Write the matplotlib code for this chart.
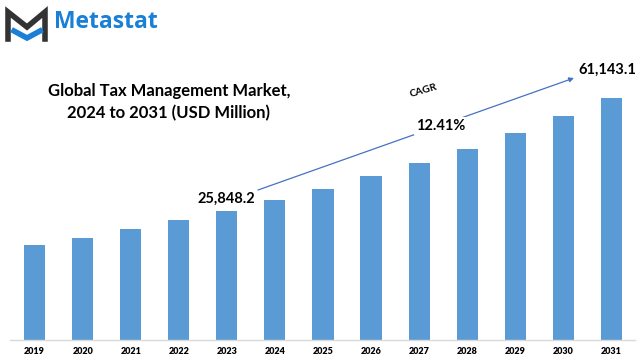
import matplotlib
matplotlib.use("Agg")
import matplotlib.pyplot as plt
from matplotlib.lines import Line2D

######################################################################
# DATA

years = ["2019", "2020", "2021", "2022", "2023", "2024", "2025",
         "2026", "2027", "2028", "2029", "2030", "2031"]
# market size (USD Million)
values = [24003, 25771, 28046, 30319, 32593, 35372, 38152,
          41436, 44721, 48258, 52301, 56596, 61143.1]
start_label = "25,848.2"
end_label = "61,143.1"
cagr_label = "12.41%"
title = "Global Tax Management Market,\n2024 to 2031 (USD Million)"

BAR_COLOR = "#5b9bd5"
W, H = 641, 359


def px(x, y):
    # pixel position -> figure fraction
    return (x / W, 1 - y / H)


######################################################################
# PLOT

fig = plt.figure(figsize=(W / 100, H / 100), dpi=100)
ax = fig.add_axes([10 / W, 19 / H, 625 / W, 340 / H])

xs = range(len(years))
ax.bar(xs, values, width=0.44, color=BAR_COLOR, zorder=2)
ax.set_xlim(-0.51, 12.49)
ax.set_ylim(0, values[-1] * 340 / 242)

ax.set_xticks(list(xs))
ax.set_xticklabels(years, fontfamily="Lato", fontweight="heavy", fontsize=6.5)
ax.tick_params(axis="x", length=0, pad=5)
ax.set_yticks([])
for s in ["top", "right", "left"]:
    ax.spines[s].set_visible(False)
ax.spines["bottom"].set_color("#d9d9d9")
ax.spines["bottom"].set_linewidth(1)

# title
fig.text(*px(169, 102), title, ha="center", va="center", fontfamily="Lato",
         fontweight="bold", fontsize=12, linespacing=1.4)

# CAGR arrow
ax.annotate("", xy=px(574, 78), xytext=px(258, 190), xycoords="figure fraction",
            textcoords="figure fraction",
            arrowprops=dict(arrowstyle="-|>", color="#4472c4", lw=0.9,
                            mutation_scale=7, shrinkA=0, shrinkB=0))
fig.text(*px(441, 126), cagr_label, ha="center", va="center", fontfamily="Lato",
         fontweight="bold", fontsize=10.5,
         bbox=dict(facecolor="white", edgecolor="none", pad=1.5))
fig.text(*px(424, 91), "CAGR", ha="center", va="center", fontfamily="Lato",
         fontweight="bold", fontsize=7.5, rotation=16)
fig.text(*px(226, 199), start_label, ha="center", va="center", fontfamily="Lato",
         fontweight="bold", fontsize=10.5)
fig.text(*px(607, 70), end_label, ha="center", va="center", fontfamily="Lato",
         fontweight="bold", fontsize=10.5)

# logo
dark = [(8, 39), (8, 12), (27, 27), (45, 12), (45, 39)]
blue = [(14, 31), (27, 38), (40, 31)]
fig.add_artist(Line2D([px(*p)[0] for p in dark], [px(*p)[1] for p in dark],
                      color="#333333", lw=4, solid_joinstyle="miter"))
fig.add_artist(Line2D([px(*p)[0] for p in blue], [px(*p)[1] for p in blue],
                      color="#1a7fd6", lw=4, solid_joinstyle="miter"))
fig.text(*px(54, 22), "Metastat", ha="left", va="center", fontfamily="Open Sans",
         fontweight="bold", fontsize=16.5, color="#1a7fd6")

fig.savefig("out.png", dpi=100)
